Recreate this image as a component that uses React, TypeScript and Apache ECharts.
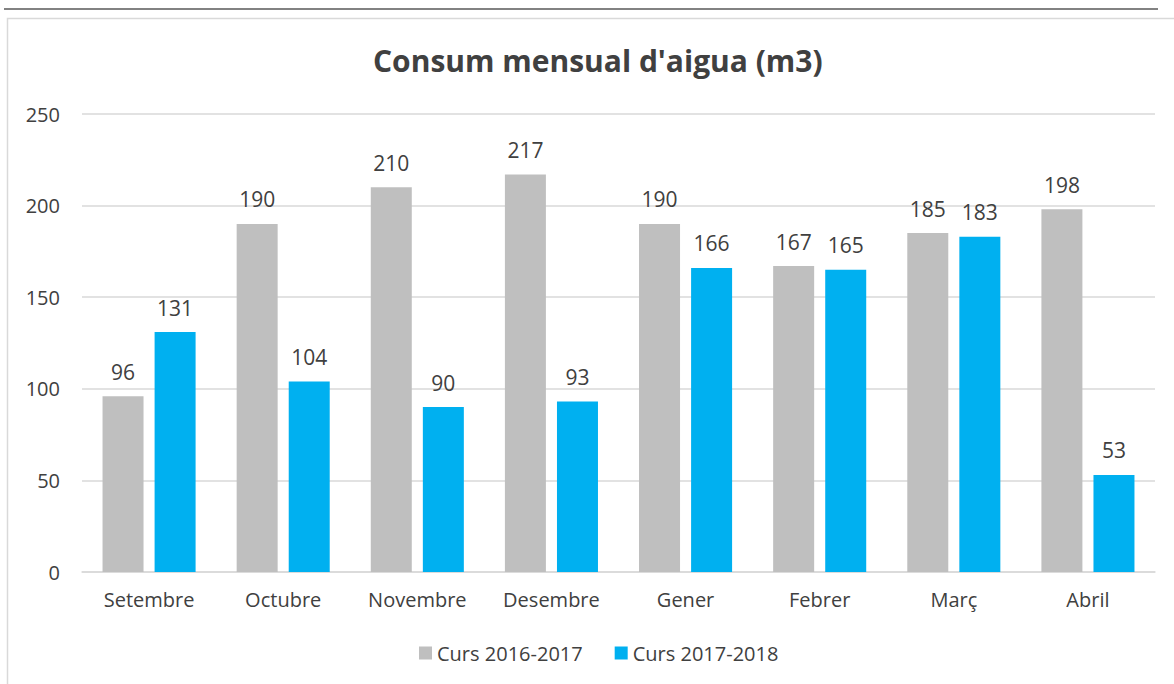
import React, { useEffect, useRef } from "react";
import * as echarts from "echarts";

const categories = ["Setembre", "Octubre", "Novembre", "Desembre", "Gener", "Febrer", "Març", "Abril"];
const curs2016 = [96, 190, 210, 217, 190, 167, 185, 198];
const curs2017 = [131, 104, 90, 93, 166, 165, 183, 53];
const seriesNames = ["Curs 2016-2017", "Curs 2017-2018"];
const yTicks = { min: 0, max: 250, interval: 50 };

const FONT = "'Open Sans', 'Noto Sans', sans-serif";

export default function App() {
  const ref = useRef<HTMLDivElement>(null);
  useEffect(() => {
    document.body.style.margin = "0";
    const chart = echarts.init(ref.current!, null, { renderer: "svg" });
    chart.setOption({
      animation: false,
      backgroundColor: "#ffffff",
      title: {
        text: "Consum mensual d'aigua (m3)",
        left: 368,
        top: 40,
        textStyle: { fontFamily: FONT, fontSize: 30, fontWeight: "bold", color: "#404040" },
      },
      graphic: [
        { type: "line", shape: { x1: 4, y1: 9, x2: 1158, y2: 9 }, style: { stroke: "#595959", lineWidth: 1.5 } },
        { type: "rect", shape: { x: 7.5, y: 18.5, width: 1180, height: 700 }, style: { fill: "none", stroke: "#d9d9d9", lineWidth: 1.5 } },
      ],
      legend: {
        bottom: 16,
        left: 414,
        itemWidth: 13,
        itemHeight: 13,
        itemGap: 32,
        icon: "rect",
        textStyle: { fontFamily: FONT, fontSize: 20, color: "#404040" },
        data: seriesNames,
      },
      grid: { left: 82, right: 19, top: 114, bottom: 112, containLabel: false },
      xAxis: {
        type: "category",
        data: categories,
        axisLine: { lineStyle: { color: "#d9d9d9", width: 1.5 } },
        axisTick: { show: false },
        axisLabel: { fontFamily: FONT, fontSize: 20, color: "#404040", margin: 17 },
      },
      yAxis: {
        type: "value",
        min: yTicks.min,
        max: yTicks.max,
        interval: yTicks.interval,
        axisLine: { show: false },
        axisTick: { show: false },
        splitLine: { lineStyle: { color: "#d9d9d9", width: 1.5 } },
        axisLabel: { fontFamily: FONT, fontSize: 20, color: "#404040", margin: 22 },
      },
      series: [
        {
          name: seriesNames[0],
          type: "bar",
          data: curs2016,
          barWidth: 41,
          barGap: "27%",
          itemStyle: { color: "#bfbfbf" },
          label: { show: true, position: "top", distance: 14, fontFamily: FONT, fontSize: 21, color: "#404040" },
        },
        {
          name: seriesNames[1],
          type: "bar",
          data: curs2017,
          barWidth: 41,
          itemStyle: { color: "#00b0f0" },
          label: { show: true, position: "top", distance: 14, fontFamily: FONT, fontSize: 21, color: "#404040" },
        },
      ],
    });
    return () => chart.dispose();
  }, []);
  return <div ref={ref} style={{ width: 1174, height: 684 }} />;
}
